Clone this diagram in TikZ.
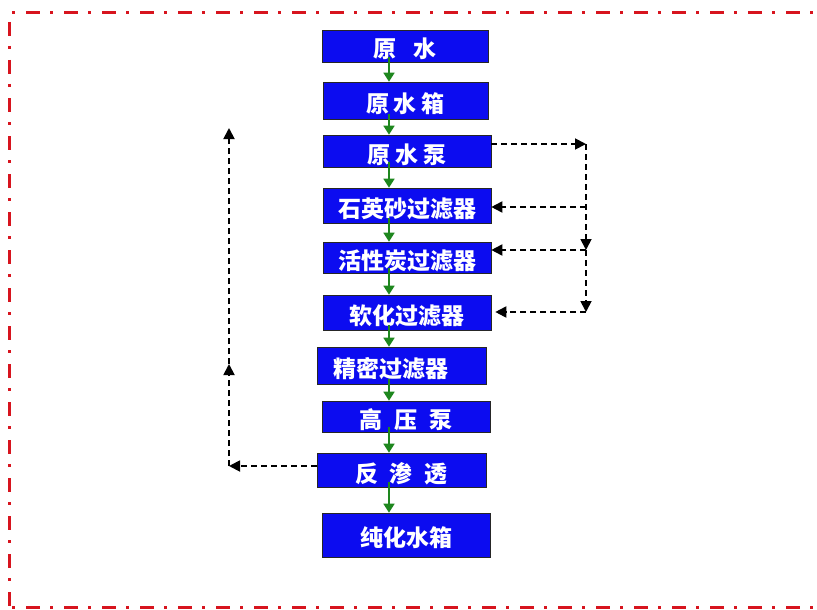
\documentclass[tikz,border=0pt]{standalone}
\usepackage{fontspec}
\newfontfamily\cjk{Noto Sans CJK SC}
\usetikzlibrary{arrows.meta}
\definecolor{boxblue}{RGB}{12,12,240}
\definecolor{flowgreen}{RGB}{30,135,30}
\definecolor{borderred}{RGB}{215,20,30}
\begin{document}
\begin{tikzpicture}[x=1pt,y=-1pt,
  stepbox/.style={draw=black!85, line width=0.6pt, fill=boxblue, text=white, inner sep=0pt,
    font=\cjk\bfseries\fontsize{23}{23}\selectfont, text height=24pt, text depth=0pt},
  flow/.style={flowgreen, line width=1.6pt, -{Triangle[length=9pt,width=11pt]}},
  back/.style={black, line width=1.8pt, dash pattern=on 6pt off 4pt, -{Triangle[length=11pt,width=11pt]}},
  frame/.style={borderred, line width=3pt, dash pattern=on 3pt off 11pt on 14pt off 10pt}]
\useasboundingbox[fill=white] (0,0) rectangle (817,610);
% frame
\draw[frame] (12,13) -- (830,13);
\draw[frame, dash phase=5pt] (9,13) -- (9,610);
\draw[frame] (12,607) -- (830,607);
% boxes
\node[stepbox, minimum width=166pt, minimum height=32pt] (p1) at (405,46) {原\hspace{18pt}水};
\node[stepbox, minimum width=165pt, minimum height=37pt] (p2) at (405.5,100.5) {原\hspace{5pt}水\hspace{5pt}箱};
\node[stepbox, minimum width=168pt, minimum height=32pt] (p3) at (407,151) {原\hspace{5pt}水\hspace{5pt}泵};
\node[stepbox, minimum width=168pt, minimum height=35pt] (p4) at (407,205.5) {石英砂过滤器};
\node[stepbox, minimum width=168pt, minimum height=31pt] (p5) at (407,257.5) {活性炭过滤器};
\node[stepbox, minimum width=168pt, minimum height=35pt] (p6) at (407,312.5) {软化过滤器};
\node[stepbox, minimum width=169pt, minimum height=37pt] (p7) at (401.5,365.5) {精密过滤器\hspace*{22pt}};
\node[stepbox, minimum width=168pt, minimum height=31pt] (p8) at (406,416.5) {高\hspace{12pt}压\hspace{12pt}泵};
\node[stepbox, minimum width=169pt, minimum height=34pt] (p9) at (401.5,470) {反\hspace{12pt}渗\hspace{12pt}透};
\node[stepbox, minimum width=168pt, minimum height=44pt, text height=22pt] (p10) at (406,535) {纯化水箱};
% green flow
\coordinate (sp) at (389,0);
\foreach \a/\b in {p1/p2,p2/p3,p3/p4,p4/p5,p5/p6,p6/p7,p7/p8,p8/p9,p9/p10}
  \draw[flow] ([yshift=5pt]\a.south -| sp) -- (\b.north -| sp);
% right dashed loop
\coordinate (r1) at (586,144);
\coordinate (r4) at (586,207);
\coordinate (r2) at (586,250);
\coordinate (r3) at (586,312);
\draw[back] ([yshift=7pt]p3.east) -- (r1);
\draw[back] (r1) -- (r2);
\draw[back] (r2) -- (r3);
\draw[back] (r4) -- (r4 -| p4.east);
\draw[back] (r2) -- (r2 -| p5.east);
\draw[back] (r3) -- ([xshift=4pt]r3 -| p6.east);
% left dashed loop
\coordinate (l1) at (229,466);
\coordinate (l2) at (229,364);
\coordinate (l3) at (229,128);
\draw[back] (l1 -| p9.west) -- (l1);
\draw[back] (l1) -- (l2);
\draw[back] (l2) -- (l3);
\end{tikzpicture}
\end{document}
